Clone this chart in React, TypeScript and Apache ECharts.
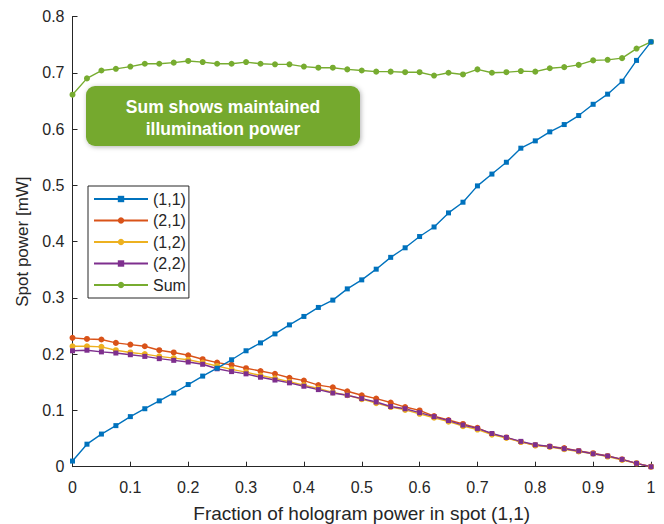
import React, { useEffect, useRef } from "react";
import * as echarts from "echarts";

const xValues = [0, 0.025, 0.05, 0.075, 0.1, 0.125, 0.15, 0.175, 0.2, 0.225, 0.25, 0.275, 0.3, 0.325, 0.35, 0.375, 0.4, 0.425, 0.45, 0.475, 0.5, 0.525, 0.55, 0.575, 0.6, 0.625, 0.65, 0.675, 0.7, 0.725, 0.75, 0.775, 0.8, 0.825, 0.85, 0.875, 0.9, 0.925, 0.95, 0.975, 1];

const spot11 = [0.010, 0.040, 0.058, 0.073, 0.089, 0.103, 0.117, 0.131, 0.146, 0.161, 0.175, 0.190, 0.206, 0.220, 0.236, 0.252, 0.267, 0.283, 0.296, 0.316, 0.332, 0.351, 0.372, 0.389, 0.409, 0.426, 0.451, 0.470, 0.499, 0.520, 0.541, 0.566, 0.579, 0.595, 0.608, 0.624, 0.644, 0.662, 0.685, 0.722, 0.755];
const spot21 = [0.229, 0.227, 0.226, 0.220, 0.217, 0.214, 0.207, 0.203, 0.198, 0.191, 0.185, 0.181, 0.175, 0.170, 0.165, 0.158, 0.153, 0.145, 0.141, 0.134, 0.127, 0.121, 0.114, 0.106, 0.100, 0.090, 0.083, 0.076, 0.069, 0.058, 0.052, 0.044, 0.038, 0.036, 0.033, 0.028, 0.024, 0.019, 0.013, 0.006, 0.000];
const spot12 = [0.214, 0.214, 0.213, 0.207, 0.203, 0.200, 0.196, 0.193, 0.190, 0.185, 0.179, 0.173, 0.168, 0.162, 0.157, 0.151, 0.145, 0.139, 0.132, 0.127, 0.120, 0.113, 0.106, 0.101, 0.094, 0.087, 0.080, 0.072, 0.066, 0.057, 0.051, 0.044, 0.038, 0.035, 0.031, 0.027, 0.023, 0.018, 0.012, 0.006, 0.000];
const spot22 = [0.206, 0.207, 0.204, 0.202, 0.199, 0.196, 0.192, 0.189, 0.186, 0.182, 0.174, 0.169, 0.165, 0.159, 0.154, 0.149, 0.143, 0.137, 0.131, 0.127, 0.121, 0.115, 0.107, 0.103, 0.096, 0.089, 0.082, 0.074, 0.068, 0.059, 0.052, 0.045, 0.039, 0.036, 0.032, 0.028, 0.023, 0.019, 0.013, 0.006, 0.000];
const spotSum = [0.661, 0.690, 0.704, 0.707, 0.711, 0.716, 0.716, 0.718, 0.721, 0.719, 0.716, 0.716, 0.719, 0.716, 0.715, 0.715, 0.711, 0.709, 0.709, 0.706, 0.704, 0.702, 0.702, 0.701, 0.701, 0.695, 0.700, 0.697, 0.706, 0.700, 0.701, 0.703, 0.702, 0.708, 0.710, 0.714, 0.722, 0.723, 0.726, 0.743, 0.755];

const seriesNames = ["(1,1)", "(2,1)", "(1,2)", "(2,2)", "Sum"];
const seriesData = [spot11, spot21, spot12, spot22, spotSum];
const seriesColors = ["#0072BD", "#D95319", "#EDB120", "#7E2F8E", "#77AC30"];
const seriesSymbols = ["rect", "circle", "circle", "rect", "circle"];

const xTitle = "Fraction of hologram power in spot (1,1)";
const yTitle = "Spot power [mW]";
const noteLines = ["Sum shows maintained", "illumination power"];

const FONT = "Liberation Sans, Arial, Helvetica, sans-serif";
const AXIS = "#262626";

export default function App() {
  const ref = useRef<HTMLDivElement>(null);
  useEffect(() => {
    document.body.style.margin = "0";
    const chart = echarts.init(ref.current!, null, { renderer: "svg" });
    const series = seriesNames.map((name, i) => ({
      name,
      type: "line",
      data: xValues.map((x, j) => [x, seriesData[i][j]]),
      symbol: seriesSymbols[i],
      symbolSize: seriesSymbols[i] === "rect" ? 5 : 6,
      showSymbol: true,
      lineStyle: { width: 1.4, color: seriesColors[i] },
      itemStyle: { color: seriesColors[i] },
      z: i === 0 ? 3 : 2,
    }));
    chart.setOption({
      animation: false,
      textStyle: { fontFamily: FONT },
      grid: { left: 72.5, right: 13, top: 16.5, bottom: 57.3, containLabel: false, outerBoundsMode: "none" },
      xAxis: {
        type: "value",
        min: 0,
        max: 1,
        interval: 0.1,
        name: xTitle,
        nameLocation: "middle",
        nameGap: 37,
        nameTextStyle: { color: AXIS, fontSize: 19, fontFamily: FONT },
        axisLine: { lineStyle: { color: AXIS, width: 1 } },
        axisTick: { inside: true, length: 5, lineStyle: { color: AXIS } },
        axisLabel: { color: AXIS, fontSize: 16, margin: 13, fontFamily: FONT },
        splitLine: { show: false },
      },
      yAxis: {
        type: "value",
        min: 0,
        max: 0.8,
        interval: 0.1,
        name: yTitle,
        nameLocation: "middle",
        nameGap: 38,
        nameTextStyle: { color: AXIS, fontSize: 17, fontFamily: FONT },
        axisLine: { show: true, lineStyle: { color: AXIS, width: 1 } },
        axisTick: { show: true, inside: true, length: 5, lineStyle: { color: AXIS } },
        axisLabel: { color: AXIS, fontSize: 16, margin: 8, fontFamily: FONT },
        splitLine: { show: false },
      },
      legend: {
        orient: "vertical",
        left: 88,
        top: 186,
        data: seriesNames,
        itemWidth: 54,
        itemHeight: 8,
        itemGap: 5.5,
        padding: [5, 3, 5, 5],
        borderColor: AXIS,
        borderWidth: 1,
        backgroundColor: "#ffffff",
        textStyle: { color: AXIS, fontSize: 16, fontFamily: FONT },
      },
      graphic: [
        {
          type: "group",
          left: 86,
          top: 86,
          children: [
            {
              type: "rect",
              shape: { x: 0, y: 0, width: 274, height: 60, r: 9 },
              style: {
                fill: "#74A92F",
                shadowBlur: 5,
                shadowColor: "rgba(0,0,0,0.3)",
                shadowOffsetX: 1,
                shadowOffsetY: 1,
              },
            },
            {
              type: "text",
              x: 137,
              y: 21,
              style: {
                text: noteLines[0],
                fill: "#ffffff",
                font: `bold 17.5px ${FONT}`,
                textAlign: "center",
                textVerticalAlign: "middle",
              },
            },
            {
              type: "text",
              x: 137,
              y: 43,
              style: {
                text: noteLines[1],
                fill: "#ffffff",
                font: `bold 17.5px ${FONT}`,
                textAlign: "center",
                textVerticalAlign: "middle",
              },
            },
          ],
        },
      ],
      series,
    });
    return () => chart.dispose();
  }, []);
  return <div ref={ref} style={{ width: 664, height: 524, position: "absolute", left: 0, top: 0 }} />;
}
